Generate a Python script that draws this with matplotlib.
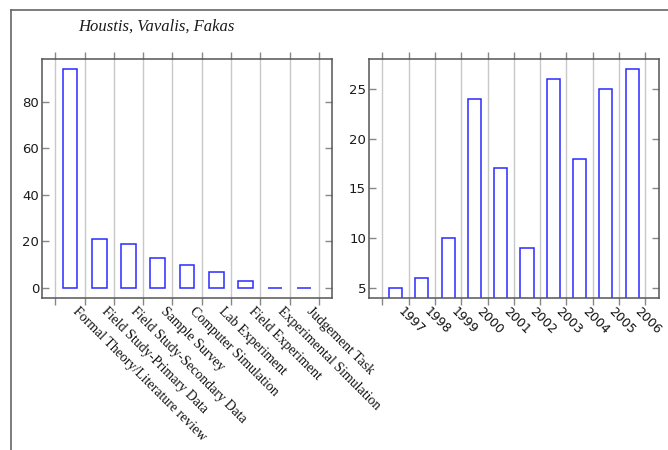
import numpy as np
import matplotlib
matplotlib.use('Agg')
import matplotlib.pyplot as plt
from matplotlib.lines import Line2D

# data
methods = ['Formal Theory/Literature review', 'Field Study-Primary Data',
           'Field Study-Secondary Data', 'Sample Survey', 'Computer Simulation',
           'Lab Experiment', 'Field Experiment', 'Experimental Simulation',
           'Judgement Task']
method_counts = [94, 21, 19, 13, 10, 7, 3, 0, 0]

years = ['1997', '1998', '1999', '2000', '2001', '2002', '2003', '2004', '2005', '2006']
year_counts = [5, 6, 10, 24, 17, 9, 26, 18, 25, 27]

title = 'Houstis, Vavalis, Fakas'

BLUE = '#2a2aff'
SPINE = '#555555'
TICK = '#888888'
GRID = '#c8c8c8'


def style_axes(ax, n, labels, label_font):
    # bars sit between integer ticks, labels go at bar centres
    ax.set_xticks(np.arange(n + 1))
    ax.set_xticklabels([])
    ax.set_xticks(np.arange(n) + 0.5, minor=True)
    ax.set_xticklabels(labels, minor=True, rotation=-45, ha='left', va='top',
                       rotation_mode='default', **label_font)
    ax.tick_params(axis='x', which='major', direction='out', top=True, bottom=True,
                   length=5, width=1, color=TICK)
    ax.tick_params(axis='x', which='minor', length=0, pad=5)
    ax.tick_params(axis='y', direction='in', left=True, right=True, length=5,
                   width=1, color=TICK, pad=2, labelsize=9.5, labelcolor='#1a1a1a')
    ax.xaxis.grid(True, which='major', color=GRID, linewidth=1)
    ax.set_axisbelow(True)
    for s in ax.spines.values():
        s.set_color(SPINE)
        s.set_linewidth(1.1)


fig = plt.figure(figsize=(6.68, 4.5), dpi=100)

# left panel: research methods
ax1 = fig.add_axes([0.063, 0.338, 0.434, 0.531])
x1 = np.arange(len(methods))
ax1.bar(x1 + 0.25, method_counts, width=0.5, align='edge',
        facecolor='none', edgecolor=BLUE, linewidth=1.1)
ax1.set_xlim(-0.45, len(methods) + 0.45)
ax1.set_ylim(-4.3, 98.5)
ax1.set_yticks([0, 20, 40, 60, 80])
style_axes(ax1, len(methods), methods,
           dict(fontfamily='Liberation Serif', fontsize=10, color='#111111'))

# right panel: papers per year
ax2 = fig.add_axes([0.552, 0.338, 0.4345, 0.531])
x2 = np.arange(len(years))
ax2.bar(x2 + 0.25, year_counts, width=0.5, align='edge',
        facecolor='none', edgecolor=BLUE, linewidth=1.1)
ax2.set_xlim(-0.52, len(years) + 0.52)
ax2.set_ylim(4, 28)
ax2.set_yticks([5, 10, 15, 20, 25])
style_axes(ax2, len(years), years,
           dict(fontfamily='DejaVu Sans', fontsize=9, color='#111111'))

# title and the partial frame around the figure
fig.text(78 / 668, 1 - 27 / 450, title, ha='left', va='center',
         fontfamily='Liberation Serif', fontstyle='italic', fontsize=12,
         color='#1a1a1a')
fig.add_artist(Line2D([11 / 668, 11 / 668], [0, 1 - 10 / 450],
                      transform=fig.transFigure, color='#666666', linewidth=1.2))
fig.add_artist(Line2D([11 / 668, 1], [1 - 10 / 450, 1 - 10 / 450],
                      transform=fig.transFigure, color='#666666', linewidth=1.2))

fig.savefig('out.png', dpi=100)
